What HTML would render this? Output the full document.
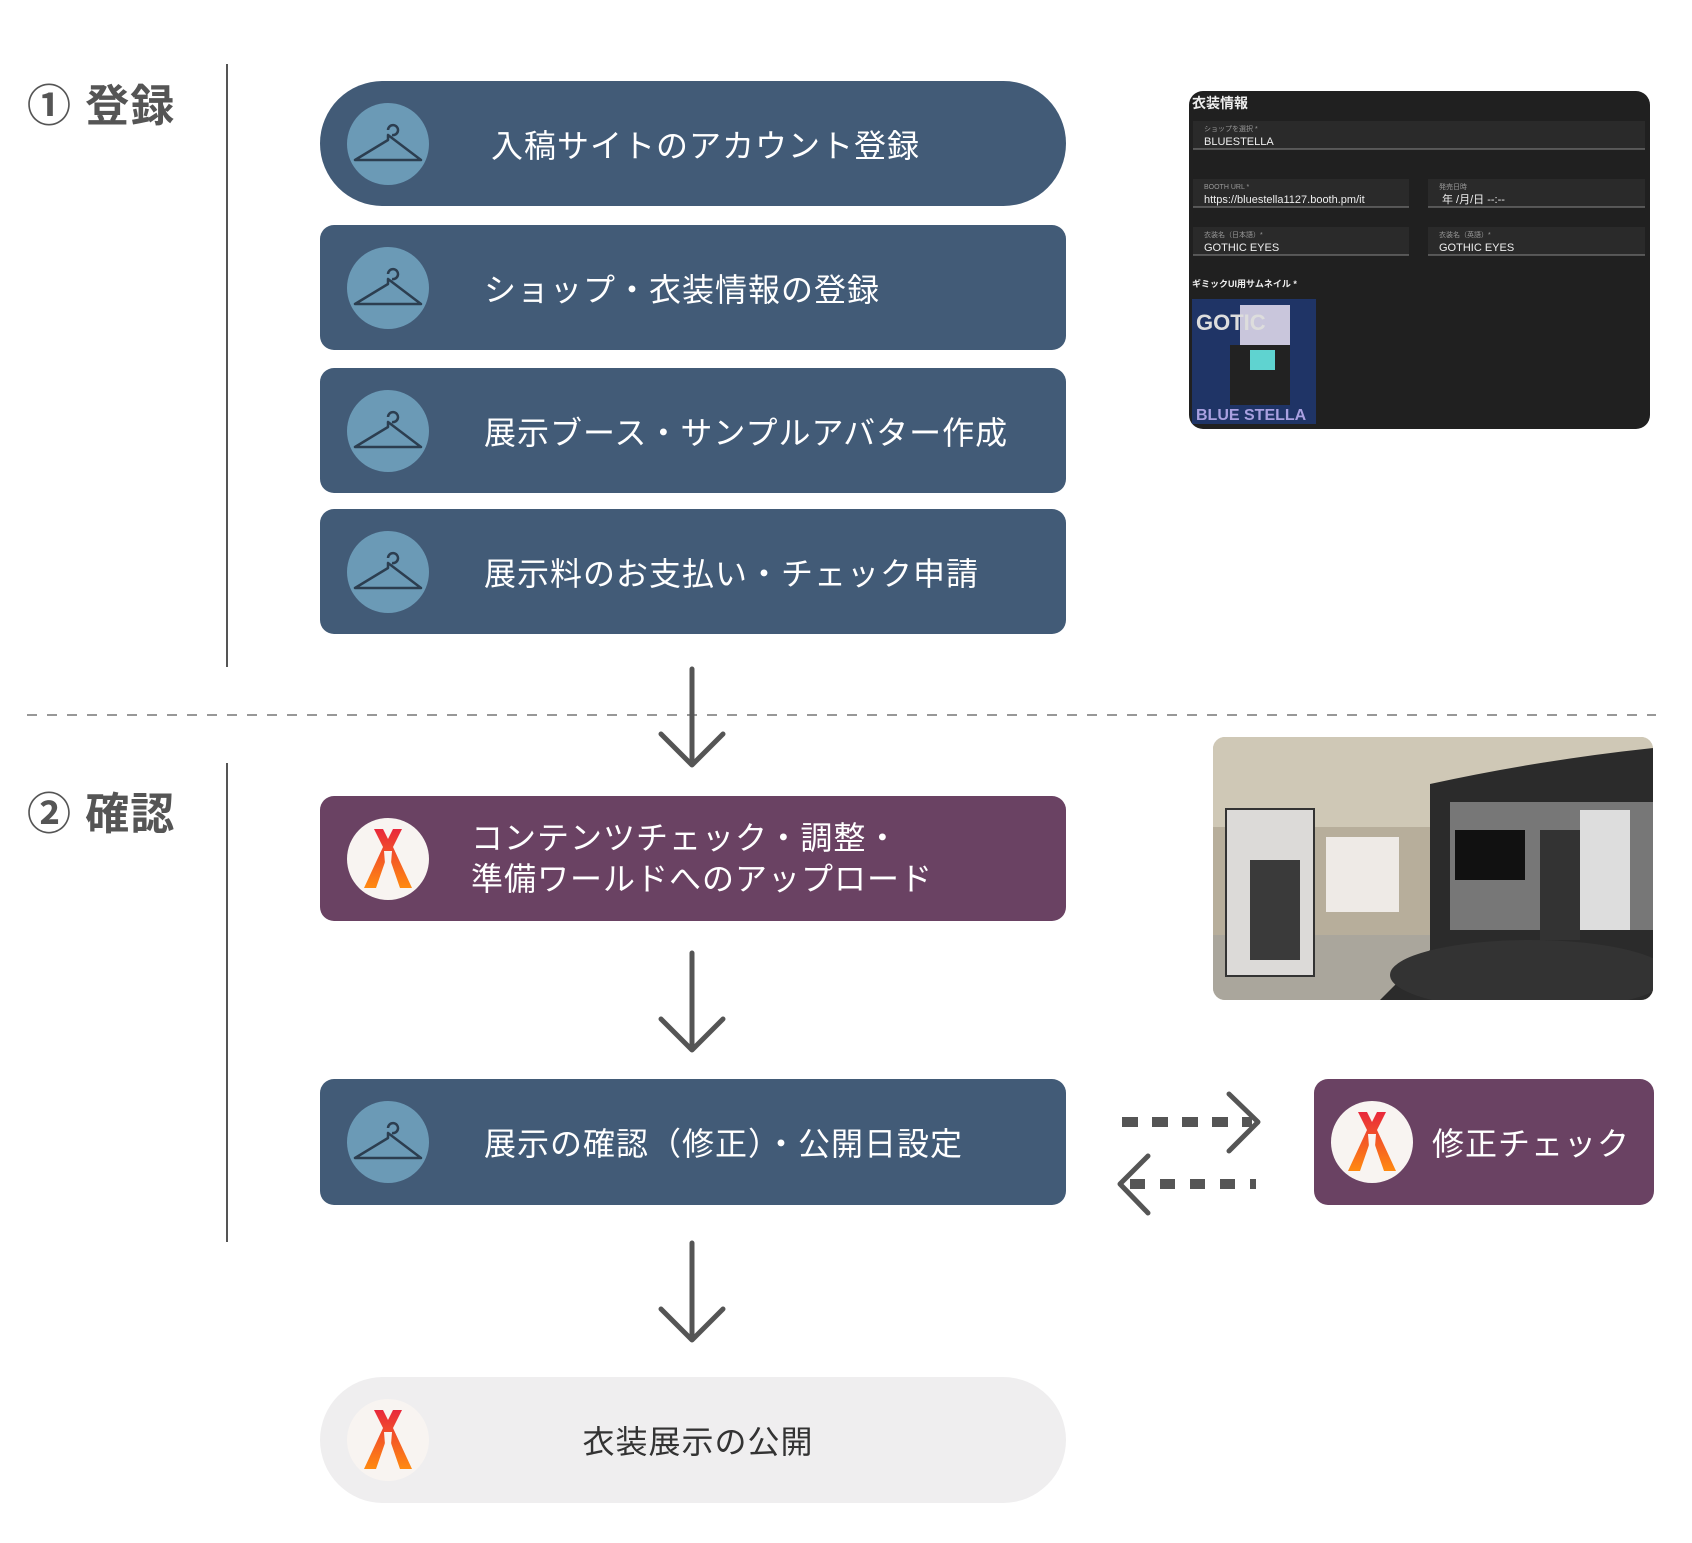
<!DOCTYPE html>
<html><head><meta charset="utf-8"><style>
body{margin:0;width:1692px;height:1543px;background:#fff;position:relative;overflow:hidden;font-family:"Liberation Sans","Noto Sans CJK JP",sans-serif}
.abs{position:absolute}
.box{position:absolute;left:320px;width:746px;height:125px;border-radius:14px;background:#425b77;color:#fff;font-size:32px}
.box .t{position:absolute;top:0;height:125px;display:flex;align-items:center;white-space:nowrap;letter-spacing:1px}
.title{position:absolute;left:27px;font-size:44px;color:#555;font-weight:600;letter-spacing:1px}
.vline{position:absolute;left:226px;width:2px;background:#555}
</style></head><body>

<div class="title" style="top:70px">① 登録</div>
<div class="title" style="top:778px">② 確認</div>
<div class="vline" style="top:64px;height:603px"></div>
<div class="vline" style="top:763px;height:479px"></div>

<div class="box" style="top:81px;border-radius:63px"><div class="t" style="left:171px">入稿サイトのアカウント登録</div></div>
<div class="box" style="top:225px"><div class="t" style="left:164px">ショップ・衣装情報の登録</div></div>
<div class="box" style="top:368px"><div class="t" style="left:164px">展示ブース・サンプルアバター作成</div></div>
<div class="box" style="top:509px"><div class="t" style="left:164px">展示料のお支払い・チェック申請</div></div>
<div class="box" style="top:796px;background:#6a4263"><div class="t" style="left:151px;line-height:41px">コンテンツチェック・調整・<br>準備ワールドへのアップロード</div></div>
<div class="box" style="top:1079px;height:126px"><div class="t" style="left:164px">展示の確認（修正）・公開日設定</div></div>
<div class="box" style="top:1377px;height:126px;background:#efeeef;color:#333;border-radius:63px"><div class="t" style="left:0;width:756px;justify-content:center">衣装展示の公開</div></div>
<div class="box" style="top:1079px;height:126px;left:1314px;width:340px;background:#6a4263"><div class="t" style="left:118px">修正チェック</div></div>

<svg class="abs" style="left:0;top:0" width="1692" height="1543">
<defs>
<g id="hanger"><circle r="41" fill="#6b9ab6"/><path d="M0,-14 a5,5 0 1 1 4,5 M0,-9 L0,-4 L-33,16 L33,16 Z" fill="none" stroke="#2c3e50" stroke-width="2.5" stroke-linejoin="round"/></g>
<linearGradient id="og" x1="0" y1="0" x2="0" y2="1"><stop offset="0" stop-color="#e8283c"/><stop offset="1" stop-color="#ff8a10"/></linearGradient>
<g id="logo"><circle r="41" fill="#f8f4f1"/><path d="M-14,-30 L-5,-30 L0,-20 L5,-30 L14,-30 L5,-12 L24,29 L12,29 L3,3 L0,-8 L-3,3 L-12,29 L-24,29 L-5,-12 Z" fill="url(#og)"/><path d="M-4,-8 L4,-8 L1,30 L-1,30Z" fill="#f8f4f1"/></g>
</defs>
<use href="#hanger" x="388" y="144"/>
<use href="#hanger" x="388" y="288"/>
<use href="#hanger" x="388" y="431"/>
<use href="#hanger" x="388" y="572"/>
<use href="#logo" x="388" y="859"/>
<use href="#hanger" x="388" y="1142"/>
<use href="#logo" x="388" y="1440"/>
<use href="#logo" x="1372" y="1142"/>
<line x1="27" y1="715" x2="1656" y2="715" stroke="#777" stroke-width="1.5" stroke-dasharray="10,10"/>
<g stroke="#555" stroke-width="5" fill="none" stroke-linecap="round" stroke-linejoin="round">
<path d="M692,669 V764 M661,734 L692,765 L723,734"/>
<path d="M692,953 V1049 M661,1019 L692,1050 L723,1019"/>
<path d="M692,1243 V1339 M661,1309 L692,1340 L723,1309"/>
<path d="M1229,1094 L1258,1122 L1229,1151"/>
<path d="M1148,1156 L1120,1184 L1148,1213"/>
</g>
<g stroke="#555" stroke-width="10" fill="none">
<line x1="1122" y1="1122" x2="1252" y2="1122" stroke-dasharray="16,14"/>
<line x1="1130" y1="1184" x2="1256" y2="1184" stroke-dasharray="15,15"/>
</g>
<rect x="1189" y="91" width="461" height="338" rx="14" fill="#202020"/>
<rect x="1193" y="121" width="452" height="28" fill="#2a2a2a"/><line x1="1193" y1="149" x2="1645" y2="149" stroke="#888"/>
<rect x="1193" y="179" width="216" height="28" fill="#2a2a2a"/><line x1="1193" y1="207" x2="1409" y2="207" stroke="#888"/>
<rect x="1428" y="179" width="217" height="28" fill="#2a2a2a"/><line x1="1428" y1="207" x2="1645" y2="207" stroke="#888"/>
<rect x="1193" y="227" width="216" height="28" fill="#2a2a2a"/><line x1="1193" y1="255" x2="1409" y2="255" stroke="#888"/>
<rect x="1428" y="227" width="217" height="28" fill="#2a2a2a"/><line x1="1428" y1="255" x2="1645" y2="255" stroke="#888"/>
<g font-family="Liberation Sans,Noto Sans CJK JP,sans-serif" fill="#eee">
<text x="1192" y="108" font-size="14" font-weight="bold">衣装情報</text>
<text x="1204" y="131" font-size="7" fill="#999">ショップを選択 *</text>
<text x="1204" y="145" font-size="11">BLUESTELLA</text>
<text x="1204" y="189" font-size="7" fill="#999">BOOTH URL *</text>
<text x="1204" y="203" font-size="11">https://bluestella1127.booth.pm/it</text>
<text x="1439" y="189" font-size="7" fill="#999">発売日時</text>
<text x="1442" y="203" font-size="11">年 /月/日 --:--</text>
<text x="1204" y="237" font-size="7" fill="#999">衣装名（日本語）*</text>
<text x="1204" y="251" font-size="11">GOTHIC EYES</text>
<text x="1439" y="237" font-size="7" fill="#999">衣装名（英語）*</text>
<text x="1439" y="251" font-size="11">GOTHIC EYES</text>
<text x="1192" y="287" font-size="9" font-weight="bold">ギミックUI用サムネイル *</text>
</g>
<rect x="1192" y="299" width="124" height="125" fill="#1f3466"/>
<rect x="1240" y="305" width="50" height="60" fill="#c9c6dc"/>
<rect x="1230" y="345" width="60" height="60" fill="#222"/>
<rect x="1250" y="350" width="25" height="20" fill="#5fd3d0"/>
<text x="1196" y="330" font-size="22" font-weight="bold" fill="#ddd" font-family="Liberation Sans">GOTIC</text>
<text x="1196" y="420" font-size="16" font-weight="bold" fill="#a9a0e0" font-family="Liberation Sans">BLUE STELLA</text>
<clipPath id="pc"><rect x="1213" y="737" width="440" height="263" rx="12"/></clipPath>
<g clip-path="url(#pc)">
<rect x="1213" y="737" width="440" height="263" fill="#b7ae9b"/>
<rect x="1213" y="737" width="440" height="90" fill="#cfc8b6"/>
<rect x="1213" y="935" width="440" height="70" fill="#aaa69c"/>
<rect x="1226" y="809" width="88" height="167" fill="#dcdad8" stroke="#333" stroke-width="2"/>
<rect x="1326" y="837" width="73" height="75" fill="#eeeae6"/>
<path d="M1430,784 Q1540,760 1653,748 V1000 H1380 L1430,950 Z" fill="#2b2b2b"/>
<rect x="1450" y="802" width="203" height="128" fill="#777"/>
<rect x="1455" y="830" width="70" height="50" fill="#111"/>
<rect x="1580" y="810" width="50" height="120" fill="#ddd"/>
<rect x="1540" y="830" width="40" height="110" fill="#333"/>
<ellipse cx="1530" cy="975" rx="140" ry="35" fill="#333"/>
<rect x="1250" y="860" width="50" height="100" fill="#3a3a3a"/>
</g>
</svg>
</body></html>
